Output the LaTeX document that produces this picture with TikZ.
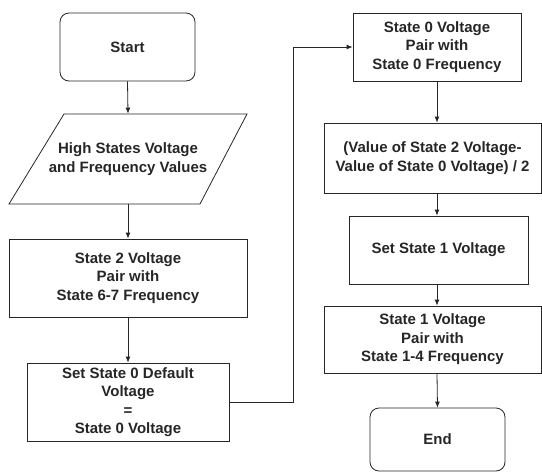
\documentclass[tikz,border=0pt]{standalone}
\usepackage{fontspec}
\setmainfont{Liberation Sans}
\usetikzlibrary{arrows.meta}
\begin{document}
\begin{tikzpicture}[x=1pt,y=-1pt,
  base/.style={draw=black!85, line width=0.8pt, align=center, inner sep=0pt,
    font=\bfseries\fontsize{15}{18.5}\selectfont, text=black!85},
  boxnode/.style={base, rectangle},
  roundnode/.style={base, rectangle, rounded corners=9pt},
  conn/.style={draw=black!85, line width=0.8pt, -{Latex[length=6pt,width=5pt]}},
  plain/.style={draw=black!85, line width=0.8pt}]
\useasboundingbox (0,0) rectangle (542,472);
\node[roundnode, minimum width=135pt, minimum height=68pt] (start) at (127.5,47) {Start};
\node[base, draw=none, minimum width=140pt, minimum height=90pt] (io) at (128,159) {High States Voltage\\and Frequency Values};
\draw[plain] (64,114) -- (247,114) -- (200,204) -- (9,204) -- cycle;
\node[boxnode, minimum width=238pt, minimum height=78pt] (s2) at (128,278) {State 2 Voltage\\Pair with\\State 6-7 Frequency};
\node[boxnode, minimum width=202pt, minimum height=78pt] (s0d) at (128,402) {Set State 0 Default\\Voltage\\=\\State 0 Voltage};
\node[boxnode, minimum width=168pt, minimum height=68pt] (s0p) at (437,47) {State 0 Voltage\\Pair with\\State 0 Frequency};
\node[boxnode, minimum width=217pt, minimum height=70pt] (val) at (432.5,158) {(Value of State 2 Voltage-\\Value of State 0 Voltage) / 2};
\node[boxnode, minimum width=179pt, minimum height=68pt] (s1) at (438.5,250) {Set State 1 Voltage};
\node[boxnode, minimum width=217pt, minimum height=67pt] (s1p) at (432.5,339.5) {State 1 Voltage\\Pair with\\State 1-4 Frequency};
\node[roundnode, minimum width=135pt, minimum height=63pt] (end) at (437.5,439.5) {End};
\draw[conn] (start.south) -- (io.north);
\draw[conn] (io.south) -- (s2.north);
\draw[conn] (s2.south) -- (s0d.north);
\draw[conn] (s0d.east) -- ++(64,0) |- (s0p.west);
\draw[conn] (s0p.south) -- (s0p.south |- val.north);
\draw[conn] (s0p.south |- val.south) -- (s0p.south |- s1.north);
\draw[conn] (s0p.south |- s1.south) -- (s0p.south |- s1p.north);
\draw[conn] (s0p.south |- s1p.south) -- (end.north);
\end{tikzpicture}
\end{document}
